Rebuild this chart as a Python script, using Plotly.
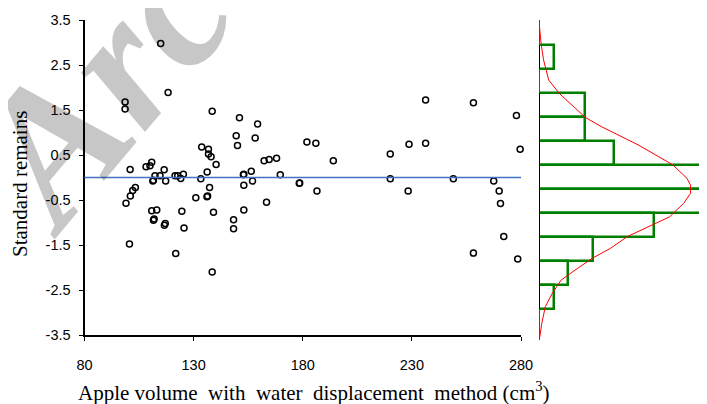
import plotly.graph_objects as go

# ---- scatter data: apple volume (cm3) vs standardized residuals ----
volume = [98.6, 98.6, 114.9, 118.3, 100.9, 108.2, 110.0, 110.8, 116.5, 112.3,
          114.6, 111.3, 111.6, 117.2, 121.5, 122.7, 124.1, 125.3, 99.0, 101.0,
          102.1, 103.3, 100.6, 110.8, 113.1, 111.9, 111.6, 116.6, 117.0, 121.8,
          124.6, 125.6, 131.0, 133.3, 133.7, 136.2, 136.1, 136.4, 136.8, 136.8,
          138.0, 137.3, 138.5, 140.3, 139.1, 148.3, 148.3, 149.5, 150.1, 151.0,
          159.3, 158.2, 152.8, 153.0, 156.4, 153.0, 157.0, 162.3, 164.6, 168.0,
          169.7, 178.4, 178.6, 181.9, 186.0, 194.0, 186.5, 163.4, 153.0, 138.5,
          236.3, 258.2, 277.9, 228.7, 236.3, 220.1, 279.6, 220.1, 249.0, 267.5,
          228.3, 270.0, 270.6, 272.1, 258.2, 278.5]
std_resid = [1.68, 1.52, 2.98, 1.89, 0.18, 0.24, 0.26, 0.34, 0.17, 0.04,
             0.04, -0.08, -0.06, -0.08, 0.04, 0.04, -0.02, 0.07, -0.57, -0.41,
             -0.29, -0.22, -1.48, -0.74, -0.72, -0.92, -0.95, -1.06, -1.02, -1.69,
             -0.75, -1.12, -0.45, -0.03, 0.68, 0.12, -0.43, -0.41, 0.63, 0.52,
             0.46, -0.22, 1.47, 0.29, -0.77, -0.94, -1.14, 0.93, 0.71, 1.33,
             1.19, 0.88, 0.06, 0.07, 0.14, -0.17, -0.08, 0.37, 0.40, 0.43,
             0.06, -0.13, -0.12, 0.79, 0.76, 0.37, -0.30, -0.55, -0.72, -2.10,
             1.72, 1.66, 1.38, 0.74, 0.76, 0.52, 0.63, -0.03, -0.03, -0.08,
             -0.30, -0.30, -0.58, -1.31, -1.68, -1.81]

x_ticks = [80, 130, 180, 230, 280]
y_ticks = [-3.5, -2.5, -1.5, -0.5, 0.5, 1.5, 2.5, 3.5]
y_ticktext = ["-3.5", "-2.5", "-1.5", "-0.5", "0.5", "1.5", "2.5", "3.5"]

# ---- side histogram of residuals ----
bin_centers = [2.75, 2.25, 1.75, 1.25, 0.75, 0.25, -0.25, -0.75, -1.25, -1.75, -2.25]
bin_freq = [1.0, 0.0, 3.1, 3.1, 5.1, 11.9, 14.0, 7.8, 3.7, 2.0, 1.0]
bin_width = 0.5

# ---- fitted normal curve ----
curve_v = [3.49, 3.04, 2.69, 2.27, 1.99, 1.75, 1.49, 1.30, 1.13, 0.92, 0.67, 0.50,
           0.22, 0.08, -0.09, -0.30, -0.58, -0.75, -0.99, -1.24, -1.44, -1.69,
           -1.90, -2.17, -2.45, -2.80, -3.15]
curve_freq = [0.0, 0.14, 0.31, 0.66, 1.38, 2.21, 3.16, 4.24, 5.31, 6.74, 8.16, 9.12,
              10.07, 10.31, 10.31, 9.84, 8.88, 7.69, 6.02, 4.84, 3.64, 2.45,
              1.50, 0.91, 0.43, 0.19, 0.02]

# The page body has an 8px margin, so the figure is sized to fill the rest
OFF = 8
W, H = 707 - OFF, 404 - OFF
def px(x):
    return (x - OFF) / W
def py(y):
    return 1 - (y - OFF) / H

fig = go.Figure()

fig.add_trace(go.Scatter(
    x=volume, y=std_resid, mode="markers",
    marker=dict(symbol="circle-open", size=6, color="black", line=dict(width=1.5, color="black")),
    xaxis="x", yaxis="y", showlegend=False, hoverinfo="skip", cliponaxis=False))

fig.add_trace(go.Bar(
    x=bin_freq, y=bin_centers, orientation="h", width=bin_width,
    marker=dict(color="rgba(0,0,0,0)", line=dict(color="#008000", width=2.5)),
    xaxis="x2", yaxis="y2", showlegend=False, hoverinfo="skip"))

fig.add_trace(go.Scatter(
    x=curve_freq, y=curve_v, mode="lines",
    line=dict(color="#ff0000", width=1),
    xaxis="x2", yaxis="y2", showlegend=False, hoverinfo="skip"))

shapes = [
    dict(type="line", xref="x domain", yref="y", x0=0, x1=1, y0=0, y1=0,
         line=dict(color="#4472C4", width=1.3)),
    dict(type="line", xref="x2", yref="y2 domain", x0=0, x1=0, y0=0, y1=1,
         line=dict(color="#008000", width=2), layer="below"),
]
# black axis segments where bars exist
for c, f in zip(bin_centers, bin_freq):
    if f > 0:
        shapes.append(dict(type="line", xref="x2", yref="y2", x0=0, x1=0,
                           y0=c - bin_width / 2, y1=c + bin_width / 2,
                           line=dict(color="black", width=2), layer="above"))

tickfont = dict(family="Liberation Sans, Arial", size=14.5, color="black")

fig.update_layout(
    width=W, height=H, autosize=False,
    margin=dict(l=0, r=0, t=0, b=0, autoexpand=False),
    paper_bgcolor="white", plot_bgcolor="rgba(0,0,0,0)",
    bargap=0,
    xaxis=dict(domain=[px(84.5), px(521)], range=[80, 280], tickvals=x_ticks,
               showline=True, linecolor="black", linewidth=2, mirror=False,
               ticks="outside", ticklen=4, tickwidth=1, tickcolor="black",
               showgrid=False, zeroline=False, tickfont=tickfont,
               ticklabelstandoff=12, anchor="y", automargin=False),
    yaxis=dict(domain=[py(335), py(20)], range=[-3.5, 3.5], tickvals=y_ticks,
               ticktext=y_ticktext,
               showline=True, linecolor="black", linewidth=2,
               ticks="outside", ticklen=4, tickwidth=1, tickcolor="black",
               showgrid=False, zeroline=False, tickfont=tickfont,
               ticklabelstandoff=5, anchor="x", automargin=False),
    xaxis2=dict(domain=[px(539), 1], range=[0, 12 - OFF / 14.0], visible=False, anchor="y2",
                automargin=False),
    yaxis2=dict(domain=[py(340), py(20)], range=[-3.146, 3.521], visible=False, anchor="x2",
                automargin=False),
    shapes=shapes,
    annotations=[
        dict(text="Arc", xref="paper", yref="paper", x=px(100), y=py(86),
             xanchor="center", yanchor="middle",
             showarrow=False, textangle=-50,
             font=dict(family="Liberation Serif", size=190, color="rgba(0,0,0,0.22)",
                       weight="bold", style="italic")),
        dict(text="Standard remains", xref="paper", yref="paper", x=px(20), y=py(184),
             showarrow=False, textangle=-90, xanchor="center", yanchor="middle",
             font=dict(family="Liberation Serif, Times New Roman", size=21, color="black")),
        dict(text="Apple volume\u00a0\u00a0with\u00a0\u00a0water\u00a0\u00a0displacement\u00a0\u00a0method (cm<sup>3</sup>)",
             xref="paper", yref="paper", x=px(313.5), y=py(391),
             showarrow=False, xanchor="center", yanchor="middle",
             font=dict(family="Liberation Serif, Times New Roman", size=21, color="black")),
    ],
)

fig.write_html("out.html")
